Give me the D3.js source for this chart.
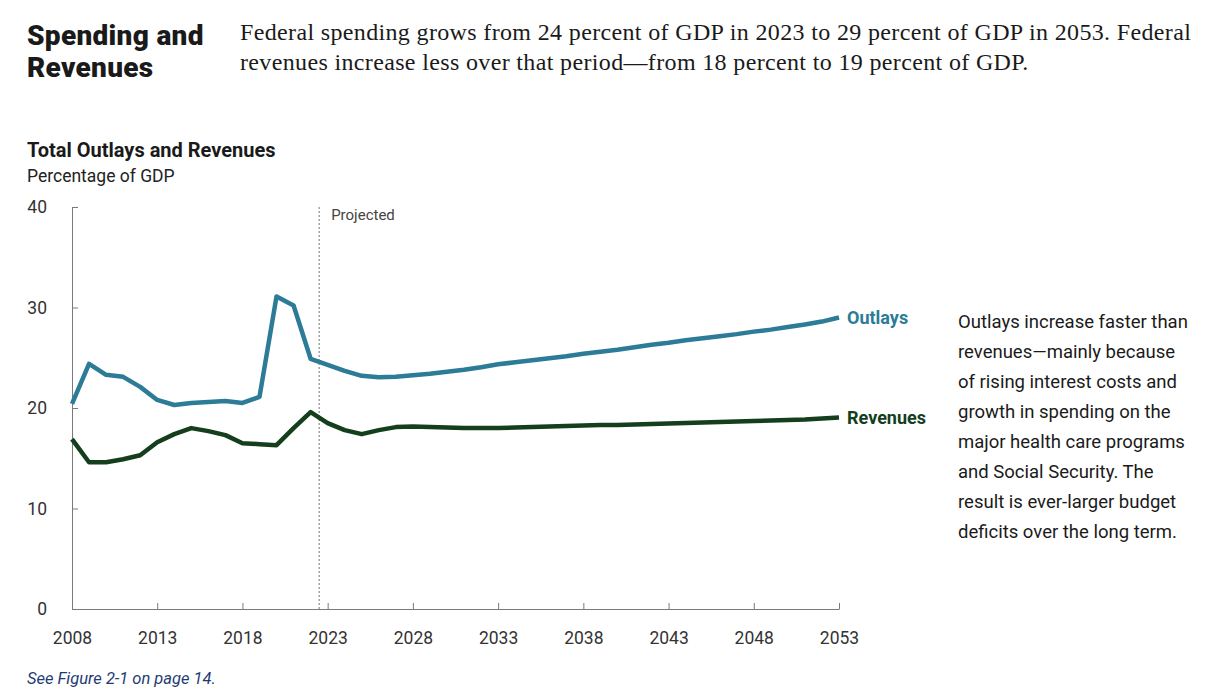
<!DOCTYPE html>
<html>
<head>
<meta charset="utf-8">
<script src="https://cdn.jsdelivr.net/npm/d3@7"></script>
<style>
  body { margin: 0; background: #fff; }
  svg { display: block; }
  .axis path, .axis line { stroke: #7a7a7a; }
  .axis text { font-family: Roboto, sans-serif; font-size: 17.5px; fill: #333; }
</style>
</head>
<body>
<svg id="chart" width="1208" height="693"></svg>
<script>
// years 2008-2053, percent of GDP
var years = d3.range(2008, 2054);
var outlays = [20.4, 24.4, 23.3, 23.1, 22.1, 20.8, 20.3, 20.5, 20.6, 20.7,
  20.5, 21.1, 31.1, 30.2, 24.9, 24.3, 23.7, 23.2, 23.05, 23.1,
  23.25, 23.4, 23.6, 23.8, 24.05, 24.35, 24.55, 24.75, 24.95, 25.15,
  25.4, 25.6, 25.8, 26.05, 26.3, 26.5, 26.75, 26.95, 27.15, 27.35,
  27.6, 27.8, 28.05, 28.3, 28.6, 29.0];
var revenues = [16.9, 14.6, 14.6, 14.9, 15.3, 16.6, 17.4, 18.0, 17.7, 17.3,
  16.5, 16.4, 16.3, 18.0, 19.6, 18.5, 17.8, 17.4, 17.8, 18.1,
  18.15, 18.1, 18.05, 18.0, 18.0, 18.0, 18.05, 18.1, 18.15, 18.2,
  18.25, 18.3, 18.3, 18.35, 18.4, 18.45, 18.5, 18.55, 18.6, 18.65,
  18.7, 18.75, 18.8, 18.85, 18.95, 19.05];
var xTicks = [2008, 2013, 2018, 2023, 2028, 2033, 2038, 2043, 2048, 2053];
var yTicks = [0, 10, 20, 30, 40];
var projectedFrom = 2022.5;

var noteLines = ["Outlays increase faster than", "revenues\u2014mainly because",
  "of rising interest costs and", "growth in spending on the",
  "major health care programs", "and Social Security. The",
  "result is ever-larger budget", "deficits over the long term."];

var svg = d3.select("#chart");

// header
var title = svg.append("text")
  .attr("x", 27).attr("y", 45)
  .style("font-family", "Roboto, sans-serif").style("font-weight", 900)
  .style("font-size", "28px").style("letter-spacing", "0.3px").attr("fill", "#1a1a1a");
title.append("tspan").attr("x", 27).text("Spending and");
title.append("tspan").attr("x", 27).attr("dy", 32).text("Revenues");

var sub = svg.append("text")
  .attr("x", 240).attr("y", 40)
  .style("font-family", "'Liberation Serif', serif")
  .style("font-size", "24px").style("letter-spacing", "0.35px").attr("fill", "#1a1a1a");
sub.append("tspan").attr("x", 240)
  .text("Federal spending grows from 24 percent of GDP in 2023 to 29 percent of GDP in 2053. Federal");
sub.append("tspan").attr("x", 240).attr("dy", 30)
  .text("revenues increase less over that period\u2014from 18 percent to 19 percent of GDP.");

svg.append("text").attr("x", 27).attr("y", 157)
  .style("font-family", "Roboto, sans-serif").style("font-weight", 700)
  .style("font-size", "20px").attr("fill", "#1a1a1a")
  .text("Total Outlays and Revenues");
svg.append("text").attr("x", 27).attr("y", 182)
  .style("font-family", "Roboto, sans-serif")
  .style("font-size", "17.5px").attr("fill", "#222")
  .text("Percentage of GDP");

// scales
var x = d3.scaleLinear().domain([2008, 2053]).range([72, 839]);
var y = d3.scaleLinear().domain([0, 40]).range([609, 207]);

svg.append("g")
  .attr("class", "y axis")
  .attr("transform", "translate(" + x(2008) + ",0)")
  .call(d3.axisLeft(y).tickValues(yTicks).tickSize(-6).tickSizeOuter(0).tickPadding(25));

svg.append("g")
  .attr("class", "x axis")
  .attr("transform", "translate(0," + y(0) + ")")
  .call(d3.axisBottom(x).tickValues(xTicks).tickFormat(d3.format("d"))
    .tickSize(-6).tickSizeOuter(0).tickPadding(23));

// projected marker
svg.append("line")
  .attr("x1", x(projectedFrom)).attr("x2", x(projectedFrom))
  .attr("y1", y(40)).attr("y2", y(0))
  .attr("stroke", "#8a8a8a").attr("stroke-width", 1.2)
  .attr("stroke-dasharray", "2,2");
svg.append("text")
  .attr("x", x(projectedFrom) + 12).attr("y", y(40) + 13)
  .style("font-family", "Roboto, sans-serif").style("font-size", "15px")
  .attr("fill", "#444").text("Projected");

// lines
var line = d3.line()
  .x(function(d, i) { return x(years[i]); })
  .y(function(d) { return y(d); });

var series = [
  {name: "Outlays", values: outlays, color: "#2c7b97"},
  {name: "Revenues", values: revenues, color: "#143e1c"}
];

series.forEach(function(s) {
  svg.append("path")
    .datum(s.values)
    .attr("fill", "none")
    .attr("stroke", s.color)
    .attr("stroke-width", 4.5)
    .attr("stroke-linejoin", "round")
    .attr("d", line);

  svg.append("text")
    .attr("x", x(2053) + 8)
    .attr("y", y(s.values[s.values.length - 1]))
    .attr("dy", "0.35em")
    .style("font-family", "Roboto, sans-serif").style("font-weight", 700)
    .style("font-size", "18px").attr("fill", s.color)
    .text(s.name);
});

// side note
var note = svg.append("text")
  .attr("x", 958).attr("y", 328)
  .style("font-family", "Roboto, sans-serif").style("font-size", "18.5px")
  .attr("fill", "#1a1a1a");
noteLines.forEach(function(t, i) {
  note.append("tspan").attr("x", 958).attr("dy", i === 0 ? 0 : 30).text(t);
});

// footer
svg.append("text").attr("x", 27).attr("y", 684)
  .style("font-family", "Roboto, sans-serif").style("font-style", "italic")
  .style("font-size", "16.5px").attr("fill", "#1f3b73")
  .text("See Figure 2-1 on page 14.");
</script>
</body>
</html>
